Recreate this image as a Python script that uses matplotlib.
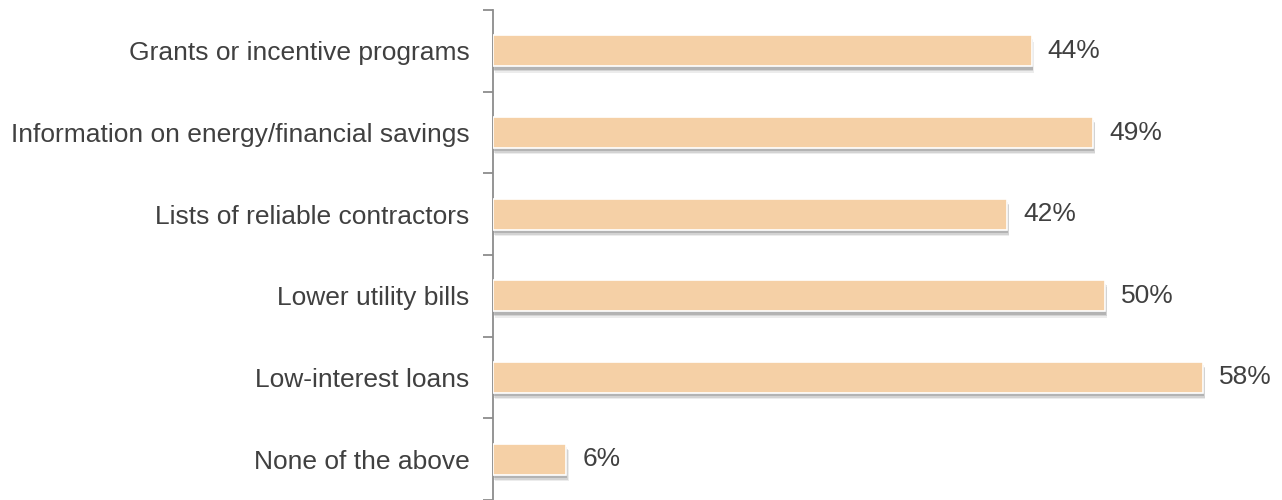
import matplotlib
matplotlib.use("Agg")
import matplotlib.pyplot as plt
import matplotlib.patheffects as pe

categories = [
    "Grants or incentive programs",
    "Information on energy/financial savings",
    "Lists of reliable contractors",
    "Lower utility bills",
    "Low-interest loans",
    "None of the above",
]
values = [44, 49, 42, 50, 58, 6]
value_labels = ["44%", "49%", "42%", "50%", "58%", "6%"]

plt.rcParams["font.family"] = ["Liberation Sans", "DejaVu Sans"]

fig = plt.figure(figsize=(12.82, 5.0), dpi=100)
ax = fig.add_axes([493 / 1282, 0.0, 1 - 493 / 1282 - 0.004, 0.98])

n = len(categories)
ypos = list(range(n))
bars = ax.barh(ypos, values, height=0.38, color="#F5D0A6", edgecolor="white",
               linewidth=1.2, zorder=3)
# soft drop shadow under each bar
for b in bars:
    b.set_path_effects([
        pe.SimplePatchShadow(offset=(1.5, -4.5), shadow_rgbFace="#9a9a9a", alpha=0.18),
        pe.SimplePatchShadow(offset=(1.0, -3.5), shadow_rgbFace="#8a8a8a", alpha=0.25),
        pe.SimplePatchShadow(offset=(0.5, -2.5), shadow_rgbFace="#7a7a7a", alpha=0.35),
        pe.Normal(),
    ])

for y, v, lab in zip(ypos, values, value_labels):
    ax.text(v + 1.3, y, lab, va="center", ha="left", fontsize=19, color="#404040")

ax.set_xlim(0, 64)
ax.set_ylim(n - 0.5, -0.5)

ax.set_yticks(ypos)
ax.set_yticklabels(categories, fontsize=19, color="#404040")
ax.tick_params(axis="y", length=0, pad=17)
ax.set_yticks([i - 0.5 for i in range(n + 1)], minor=True)
ax.tick_params(axis="y", which="minor", length=7, width=1.3, color="#8c8c8c")
ax.set_xticks([])

for s in ["top", "right", "bottom"]:
    ax.spines[s].set_visible(False)
ax.spines["left"].set_color("#8c8c8c")
ax.spines["left"].set_linewidth(1.3)

fig.savefig("out.png", dpi=100, facecolor="white")
